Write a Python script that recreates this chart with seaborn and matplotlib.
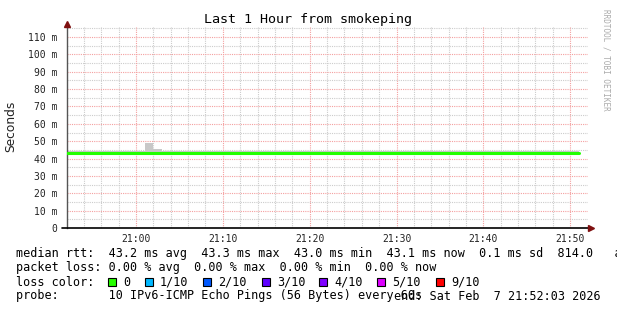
import matplotlib
matplotlib.use("Agg")
import matplotlib.pyplot as plt
from matplotlib.patches import Rectangle
import seaborn as sns
import pandas as pd

# ---------------- data ----------------
title = "Last 1 Hour from smokeping"
y_label = "Seconds"
# minute bins relative to 21:00 (20:52 ... 21:50)
minutes = [-8, -7, -6, -5, -4, -3, -2, -1, 0, 1, 2, 3, 4, 5, 6, 7, 8, 9, 10,
           11, 12, 13, 14, 15, 16, 17, 18, 19, 20, 21, 22, 23, 24, 25, 26, 27,
           28, 29, 30, 31, 32, 33, 34, 35, 36, 37, 38, 39, 40, 41, 42, 43, 44,
           45, 46, 47, 48, 49, 50]
median_ms = [42.95, 42.95, 43.4, 42.95, 43.4, 43.4, 43.4, 43.4, 43.4, 43.4,
             43.4, 43.4, 43.4, 43.4, 43.4, 43.4, 42.95, 42.95, 43.4, 43.4,
             43.4, 42.95, 42.95, 43.4, 43.4, 42.95, 43.4, 43.4, 43.4, 42.95,
             43.4, 43.4, 43.4, 42.95, 42.95, 43.4, 43.4, 42.95, 43.4, 43.4,
             43.4, 43.4, 43.4, 42.95, 43.4, 42.95, 43.4, 43.4, 43.4, 43.4,
             43.4, 42.95, 42.95, 42.95, 43.4, 43.4, 43.4, 42.95, 42.95]
smoke_hi = [44.1, 44.1, 44.1, 44.1, 44.1, 44.1, 44.1, 44.1, 44.1, 48.8,
            45.4, 44.1, 44.1, 44.1, 44.1, 44.1, 44.1, 44.1, 44.1, 44.1,
            44.1, 44.1, 44.1, 44.1, 44.1, 44.1, 44.1, 44.1, 44.1, 44.1,
            44.1, 44.1, 44.1, 44.1, 44.1, 44.1, 44.1, 44.1, 44.1, 44.1,
            44.1, 44.1, 44.1, 44.1, 44.1, 44.1, 44.1, 44.1, 44.1, 44.1,
            44.1, 44.1, 44.1, 44.1, 44.1, 44.1, 44.1, 44.1, 44.1]
smoke_lo = [42.6] * 59
x_tick_pos = [0, 10, 20, 30, 40, 50]
x_tick_labels = ["21:00", "21:10", "21:20", "21:30", "21:40", "21:50"]
y_ticks = [0, 10, 20, 30, 40, 50, 60, 70, 80, 90, 100, 110]
y_tick_labels = ["0", "10 m", "20 m", "30 m", "40 m", "50 m", "60 m", "70 m",
                 "80 m", "90 m", "100 m", "110 m"]
legend_rows = [
    "median rtt:  43.2 ms avg  43.3 ms max  43.0 ms min  43.1 ms now  0.1 ms sd  814.0   am sd",
    "packet loss: 0.00 % avg  0.00 % max  0.00 % min  0.00 % now",
    "loss color:",
    "probe:       10 IPv6-ICMP Echo Pings (56 Bytes) every 60s",
]
end_text = "end: Sat Feb  7 21:52:03 2026"
loss_labels = ["0", "1/10", "2/10", "3/10", "4/10", "5/10", "9/10"]
loss_colors = ["#26ff00", "#00b8ff", "#0059ff", "#5e00ff", "#7e00ff", "#dd00ff", "#ff0000"]

# ---------------- figure ----------------
sns.set_theme(style="white")
plt.rcParams["font.family"] = ["DejaVu Sans Mono", "DejaVu Sans"]
W, H = 617, 310
fig = plt.figure(figsize=(W / 100, H / 100), dpi=100, facecolor="white")
ax = fig.add_axes([67 / W, 1 - 228 / H, 521 / W, 201 / H])
ax.set_facecolor("white")

edges = minutes + [minutes[-1] + 1]
df = pd.DataFrame({"t": edges,
                   "median": median_ms + [median_ms[-1]],
                   "hi": smoke_hi + [smoke_hi[-1]],
                   "lo": smoke_lo + [smoke_lo[-1]]})

# smoke
ax.fill_between(df["t"], df["lo"], df["hi"], step="post", color="#c8c8c8",
                linewidth=0, zorder=2)
# median
sns.lineplot(data=df, x="t", y="median", ax=ax, drawstyle="steps-post",
             color="#22ff00", linewidth=2.2, zorder=3)

ax.set_xlim(-7.95, 52.05)
ax.set_ylim(0, 115.8)

# grids
minor_x = [m for m in range(-6, 52, 2) if m % 10 != 0]
minor_y = [v for v in range(5, 116, 5) if v % 10 != 0]
for m in minor_x:
    ax.axvline(m, color="#cccccc", linewidth=0.8, linestyle=(0, (1, 1)), zorder=1)
for v in minor_y:
    ax.axhline(v, color="#cccccc", linewidth=0.8, linestyle=(0, (1, 1)), zorder=1)
for m in x_tick_pos:
    ax.axvline(m, color="#f4a0a0", linewidth=0.8, linestyle=(0, (1, 1)), zorder=1)
for v in y_ticks[1:]:
    ax.axhline(v, color="#f4a0a0", linewidth=0.8, linestyle=(0, (1, 1)), zorder=1)

ax.set_xticks(x_tick_pos)
ax.set_xticklabels(x_tick_labels, fontsize=7, color="#222222")
ax.set_xticks(minor_x, minor=True)
ax.set_yticks(y_ticks)
ax.set_yticklabels(y_tick_labels, fontsize=7, color="#222222")
ax.tick_params(axis="x", which="major", length=3, width=0.8, color="#555555", pad=1, direction="out")
ax.tick_params(axis="x", which="minor", length=2, width=0.8, color="#888888", direction="out")
ax.tick_params(axis="y", which="major", length=3, width=0.8, color="#555555", pad=4, direction="out")
ax.set_xlabel("")
ax.set_ylabel("")

for s in ["top", "right"]:
    ax.spines[s].set_visible(False)
ax.spines["left"].set_color("#555555")
ax.spines["left"].set_linewidth(1)
ax.spines["bottom"].set_visible(False)
ax.plot([-0.01, 1.006], [0, 0], transform=ax.transAxes, color="black",
        linewidth=1.2, clip_on=False, zorder=5)
ax.plot([1.006], [0], marker=">", color="#7f1010", markersize=4,
        transform=ax.transAxes, clip_on=False, zorder=6)
ax.plot([0], [1.015], marker="^", color="#7f1010", markersize=4,
        transform=ax.transAxes, clip_on=False, zorder=6)

# texts
fig.text(308 / W, 1 - 19 / H, title, ha="center", va="center", fontsize=9.6,
         color="black")
fig.text(11 / W, 1 - 126 / H, y_label, rotation=90, ha="center", va="center",
         fontsize=8.8, color="#222222", family="DejaVu Sans")
fig.text(606 / W, 1 - 60 / H, "RRDTOOL / TOBI OETIKER", rotation=-90,
         ha="center", va="center", fontsize=5.5, color="#aaaaaa")

row_y = [254, 268, 282, 296]
for txt, yy in zip(legend_rows, row_y):
    fig.text(16 / W, 1 - yy / H, txt, ha="left", va="center", fontsize=8.5,
             color="black")
fig.text(601 / W, 1 - 296 / H, end_text, ha="right", va="center", fontsize=8.5,
         color="black")

box_x = [108, 145, 203, 262, 319, 377, 436]
for bx, lab, col in zip(box_x, loss_labels, loss_colors):
    fig.add_artist(Rectangle((bx / W, 1 - 286 / H), 8 / W, 8 / H,
                             transform=fig.transFigure, facecolor=col,
                             edgecolor="black", linewidth=0.8))
    fig.text((bx + 15) / W, 1 - 282 / H, lab, ha="left", va="center",
             fontsize=8.5, color="black")

fig.savefig("out.png", dpi=100, facecolor="white")
